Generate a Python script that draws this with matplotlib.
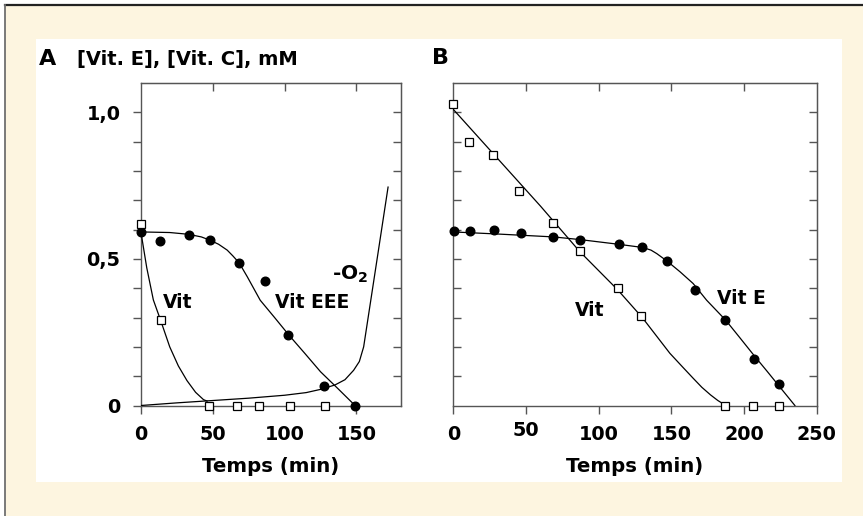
import numpy as np
import matplotlib
matplotlib.use('Agg')
import matplotlib.pyplot as plt
from matplotlib.patches import Rectangle
from matplotlib.lines import Line2D
from matplotlib.transforms import ScaledTranslation

plt.rcParams['font.family'] = ['DejaVu Sans']
plt.rcParams['font.weight'] = 'bold'
plt.rcParams['mathtext.default'] = 'bf'

# ---- données ----
# A : vitamine C (carrés), vitamine E (ronds), consommation d'O2
a_vitc_t = [0, 14, 47.5, 67, 82, 104, 128]
a_vitc_y = [0.62, 0.29, 0, 0, 0, 0, 0]
a_vitc_ct = [0, 4, 8.6, 13.7, 20, 26, 32, 38, 43.5, 46]
a_vitc_cy = [0.59, 0.47, 0.36, 0.29, 0.2, 0.135, 0.085, 0.045, 0.02, 0.015]

a_vite_t = [0, 13.5, 33.3, 48, 68.4, 86, 102.3, 127.3, 149]
a_vite_y = [0.591, 0.561, 0.582, 0.563, 0.486, 0.426, 0.239, 0.066, 0]
a_vite_ct = [0, 20, 33, 42, 48, 54, 60, 64, 68.4, 74, 83, 93, 103, 114, 125, 137, 149]
a_vite_cy = [0.592, 0.59, 0.584, 0.575, 0.564, 0.55, 0.53, 0.51, 0.486, 0.439, 0.359,
             0.30, 0.24, 0.178, 0.115, 0.058, 0]

a_o2_t = [0, 25, 50, 75, 100, 115, 125, 135, 142, 148, 152, 155, 160, 165, 172]
a_o2_y = [0, 0.009, 0.017, 0.025, 0.035, 0.044, 0.055, 0.07, 0.088, 0.12, 0.15,
          0.2, 0.36, 0.52, 0.745]

# B
b_vitc_t = [0, 11, 27, 45, 68.4, 87, 113.5, 129, 187, 206, 224]
b_vitc_y = [1.03, 0.899, 0.856, 0.73, 0.622, 0.527, 0.401, 0.304, 0, 0, 0]
b_vitc_ct = [0, 30, 60, 87, 113, 130, 149, 158, 165, 171, 177, 182, 187.5]
b_vitc_cy = [1.01, 0.845, 0.68, 0.525, 0.395, 0.3, 0.178, 0.13, 0.093, 0.062, 0.036, 0.017, 0]

b_vite_t = [0.7, 11.5, 28, 46.8, 68.8, 87.4, 113.8, 130, 147.2, 166, 187.1, 206.9, 224]
b_vite_y = [0.594, 0.594, 0.598, 0.589, 0.575, 0.566, 0.55, 0.541, 0.492, 0.393,
            0.291, 0.158, 0.073]
b_vite_ct = [0, 30, 69, 87, 113.5, 130.3, 136, 140, 147.2, 156, 165, 174.3, 187.4,
             197, 207, 216, 224, 235]
b_vite_cy = [0.592, 0.585, 0.575, 0.566, 0.55, 0.539, 0.53, 0.518, 0.492, 0.456, 0.416,
             0.359, 0.291, 0.232, 0.17, 0.116, 0.067, 0]

a_xticks = [0, 50, 100, 150]
b_xticks = [0, 50, 100, 150, 200, 250]
a_yticks = [0, 0.5, 1.0]
a_ylabels = ['0', '0,5', '1,0']
y_minor = [0.1, 0.2, 0.3, 0.4, 0.6, 0.7, 0.8, 0.9]
y_all = [0.1, 0.2, 0.3, 0.4, 0.5, 0.6, 0.7, 0.8, 0.9, 1.0]

W, H = 863, 516
fx = lambda x: x / W
fy = lambda y: 1 - y / H

CREAM = '#fdf5e0'
SPINE = '#555555'
TL = 5.8

fig = plt.figure(figsize=(8.63, 5.16), dpi=100, facecolor='white')
fig.patches.append(Rectangle((fx(5), 0), 1 - fx(5), fy(4.5), transform=fig.transFigure,
                             fc=CREAM, ec='none', zorder=-3))
fig.patches.append(Rectangle((fx(36), fy(482)), fx(842) - fx(36), fy(39) - fy(482),
                             transform=fig.transFigure, fc='white', ec='none', zorder=-2))
fig.add_artist(Line2D([fx(5), 1], [fy(4.5), fy(4.5)], color='#222222', lw=1.6))
fig.add_artist(Line2D([fx(5), fx(5)], [0, fy(4.5)], color='#707070', lw=1.3))


def setup(ax, xlim, xticks, top_ticks):
    ax.set_facecolor('none')
    ax.set_xlim(*xlim)
    ax.set_ylim(0, 1.1)
    for s in ax.spines.values():
        s.set_color(SPINE); s.set_linewidth(1.0)
    ax.set_xticks(xticks)
    ax.set_xticklabels([str(v) for v in xticks])
    ax.tick_params(axis='x', direction='out', length=TL, width=1, color=SPINE,
                   labelsize=13.8, pad=8)
    sx = ax.secondary_xaxis('top')
    sx.set_xticks(top_ticks)
    sx.tick_params(direction='in', length=TL, width=1, color=SPINE, labeltop=False)
    sx.spines['top'].set_color(SPINE)
    sy = ax.secondary_yaxis('right')
    sy.set_yticks(y_all)
    sy.tick_params(direction='in', length=TL, width=1, color=SPINE, labelright=False)
    sy.spines['right'].set_color(SPINE)


line_kw = dict(color='black', lw=0.9, zorder=3)
circ_kw = dict(ls='none', marker='o', ms=6.2, mfc='black', mec='black', zorder=4)
sq_kw = dict(ls='none', marker='s', ms=5.2, mfc='white', mec='black', mew=0.9, zorder=5)

# ---- panneau A ----
axA = fig.add_axes([fx(141), fy(405.5), fx(401) - fx(141), fy(83) - fy(405.5)])
setup(axA, (0, 181), a_xticks, [50, 100, 150])
axA.set_yticks(a_yticks)
axA.set_yticklabels(a_ylabels)
axA.set_yticks(y_minor, minor=True)
axA.tick_params(axis='y', which='both', direction='out', length=TL, width=1,
                color=SPINE, labelsize=13.8, pad=9)
axA.xaxis.get_major_ticks()[2].tick1line.set_visible(False)

axA.plot(a_o2_t, a_o2_y, **line_kw)
axA.plot(a_vitc_ct, a_vitc_cy, **line_kw)
axA.plot(a_vite_ct, a_vite_cy, **line_kw)
axA.plot(a_vite_t, a_vite_y, clip_on=False, **circ_kw)
axA.plot(a_vitc_t, a_vitc_y, clip_on=False, **sq_kw)

axA.text(fx(163), fy(303), 'Vit', transform=fig.transFigure, fontsize=13.5,
         ha='left', va='center')
axA.text(fx(275), fy(302), 'Vit EEE', transform=fig.transFigure, fontsize=13.5,
         ha='left', va='center')
axA.text(fx(332), fy(274), '-O$_2$', transform=fig.transFigure, fontsize=14.5,
         ha='left', va='center')

# ---- panneau B ----
axB = fig.add_axes([fx(453.3), fy(405.5), fx(816.7) - fx(453.3), fy(83) - fy(405.5)])
setup(axB, (0, 250), b_xticks, [50, 100, 150, 200])
axB.set_yticks(y_all)
axB.tick_params(axis='y', direction='in', length=TL, width=1, color=SPINE,
                labelleft=False)
# le « 50 » du panneau B est un peu remonté dans l'original
lbl50 = axB.xaxis.get_major_ticks()[1].label1
lbl50.set_transform(lbl50.get_transform() + ScaledTranslation(0, 2.5 / 72, fig.dpi_scale_trans))

axB.plot(b_vitc_ct, b_vitc_cy, **line_kw)
axB.plot(b_vite_ct, b_vite_cy, **line_kw)
axB.plot(b_vite_t, b_vite_y, clip_on=False, **circ_kw)
axB.plot(b_vitc_t, b_vitc_y, clip_on=False, **sq_kw)

axB.text(fx(575), fy(310), 'Vit', transform=fig.transFigure, fontsize=13.5,
         ha='left', va='center')
axB.text(fx(717), fy(298), 'Vit E', transform=fig.transFigure, fontsize=13.5,
         ha='left', va='center')

# ---- titres ----
fig.text(fx(39), fy(59), 'A', fontsize=16, ha='left', va='center')
fig.text(fx(77), fy(59.5), '[Vit. E], [Vit. C], mM', fontsize=14, ha='left', va='center')
fig.text(fx(432), fy(57.5), 'B', fontsize=16, ha='left', va='center')
fig.text(fx(271), fy(467), 'Temps (min)', fontsize=14.2, ha='center', va='center')
fig.text(fx(635), fy(467), 'Temps (min)', fontsize=14.2, ha='center', va='center')

fig.savefig('out.png', dpi=100, facecolor=fig.get_facecolor())
